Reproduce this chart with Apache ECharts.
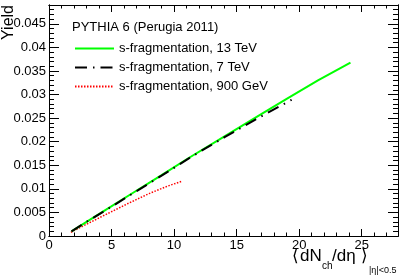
<!DOCTYPE html>
<html>
<head>
<meta charset="utf-8">
<script src="https://cdn.jsdelivr.net/npm/echarts@6/dist/echarts.min.js"></script>
<style>
html,body{margin:0;padding:0;background:#fff;}
#c{width:407px;height:277px;}
</style>
</head>
<body>
<div id="c"></div>
<script>
// ---- data ----
var x13 = [1.8, 3.0, 4.5, 6.5, 9.0, 11.2, 14.0, 17.0, 19.0, 21.5, 24.1];
var y13 = [0.0010, 0.0030, 0.0055, 0.0088, 0.0129, 0.0166, 0.0211, 0.0259, 0.0291, 0.0330, 0.0368];
var x7 = [1.8, 3.0, 4.5, 6.5, 9.0, 11.5, 14.0, 16.5, 19.4];
var y7 = [0.0010, 0.0030, 0.0054, 0.0087, 0.0128, 0.0170, 0.0209, 0.0247, 0.0289];
var x900 = [1.75, 3.0, 4.5, 6.4, 8.0, 9.5, 10.6];
var y900 = [0.0008, 0.0025, 0.0045, 0.0070, 0.0090, 0.0106, 0.0116];
var seriesNames = ['s-fragmentation, 13 TeV', 's-fragmentation, 7 TeV', 's-fragmentation, 900 GeV'];
var headerText = 'PYTHIA 6 (Perugia 2011)';

function pairs(xs, ys){ var o=[]; for(var i=0;i<xs.length;i++) o.push([xs[i], ys[i]]); return o; }

var FONT = '"Liberation Sans", Arial, Helvetica, sans-serif';
var XMAX = 27.9, YMAX = 0.049;

function xAx(pos, interval, len, labels){
  return {
    type:'value', position:pos, min:0, max:XMAX, interval:interval,
    axisLine:{show:true, onZero:false, lineStyle:{color:'#000', width:1}},
    axisTick:{show:true, inside:true, length:len, lineStyle:{color:'#000', width:1}},
    splitLine:{show:false},
    axisLabel:{show:labels, margin:3, fontSize:13, color:'#000', fontFamily:FONT, showMaxLabel:false}
  };
}
function yAx(pos, interval, len, labels){
  return {
    type:'value', position:pos, min:0, max:YMAX, interval:interval,
    axisLine:{show:true, onZero:false, lineStyle:{color:'#000', width:1}},
    axisTick:{show:true, inside:true, length:len, lineStyle:{color:'#000', width:1}},
    splitLine:{show:false},
    axisLabel:{show:labels, margin:3, fontSize:13, color:'#000', fontFamily:FONT, showMaxLabel:false}
  };
}

var chart = echarts.init(document.getElementById('c'), null, {renderer:'canvas'});
chart.setOption({
  animation:false,
  backgroundColor:'#fff',
  grid:{left:49, right:9, top:5, bottom:41, containLabel:false},
  title:{text:headerText, left:67, top:16, textStyle:{fontSize:13, fontWeight:'normal', color:'#000', fontFamily:FONT}},
  legend:{
    orient:'vertical', left:69, top:37, itemWidth:39, itemHeight:14, itemGap:6, itemStyle:{opacity:0},
    textStyle:{fontSize:13, color:'#000', fontFamily:FONT},
    data:seriesNames
  },
  xAxis:[xAx('bottom',5,7,true), xAx('bottom',1,3.5,false), xAx('top',5,7,false), xAx('top',1,3.5,false)],
  yAxis:[yAx('left',0.005,10,true), yAx('left',0.001,5,false), yAx('right',0.005,10,false), yAx('right',0.001,5,false)],
  series:[
    {name:seriesNames[0], type:'line', symbol:'none', data:pairs(x13,y13), lineStyle:{color:'#00ff00', width:2}, itemStyle:{color:'#00ff00'}, z:3},
    {name:seriesNames[1], type:'line', symbol:'none', data:pairs(x7,y7), lineStyle:{color:'#000', width:2, type:[12,6,1.5,6]}, itemStyle:{color:'#000'}, z:4},
    {name:seriesNames[2], type:'line', symbol:'none', data:pairs(x900,y900), lineStyle:{color:'#ff0000', width:1.5, type:[1.5,1.5]}, itemStyle:{color:'#ff0000'}, z:2}
  ],
  graphic:[
    {type:'text', rotation:Math.PI/2, x:9, y:5, style:{text:'Yield', font:'16px '+FONT, fill:'#000', textAlign:'right', textVerticalAlign:'middle'}},
    {type:'text', x:292, y:256, style:{text:'\u27e8', font:'17px '+FONT, fill:'#000', textAlign:'left', textVerticalAlign:'middle'}},
    {type:'text', x:300, y:256, style:{text:'dN', font:'17px '+FONT, fill:'#000', textAlign:'left', textVerticalAlign:'middle'}},
    {type:'text', x:322, y:266, style:{text:'ch', font:'10px '+FONT, fill:'#000', textAlign:'left', textVerticalAlign:'middle'}},
    {type:'text', x:332, y:256, style:{text:'/d\u03b7', font:'17px '+FONT, fill:'#000', textAlign:'left', textVerticalAlign:'middle'}},
    {type:'text', x:361, y:256, style:{text:'\u27e9', font:'17px '+FONT, fill:'#000', textAlign:'left', textVerticalAlign:'middle'}},
    {type:'text', x:369, y:271, style:{text:'|\u03b7|<0.5', font:'9px '+FONT, fill:'#000', textAlign:'left', textVerticalAlign:'middle'}}
  ]
});
</script>
</body>
</html>
